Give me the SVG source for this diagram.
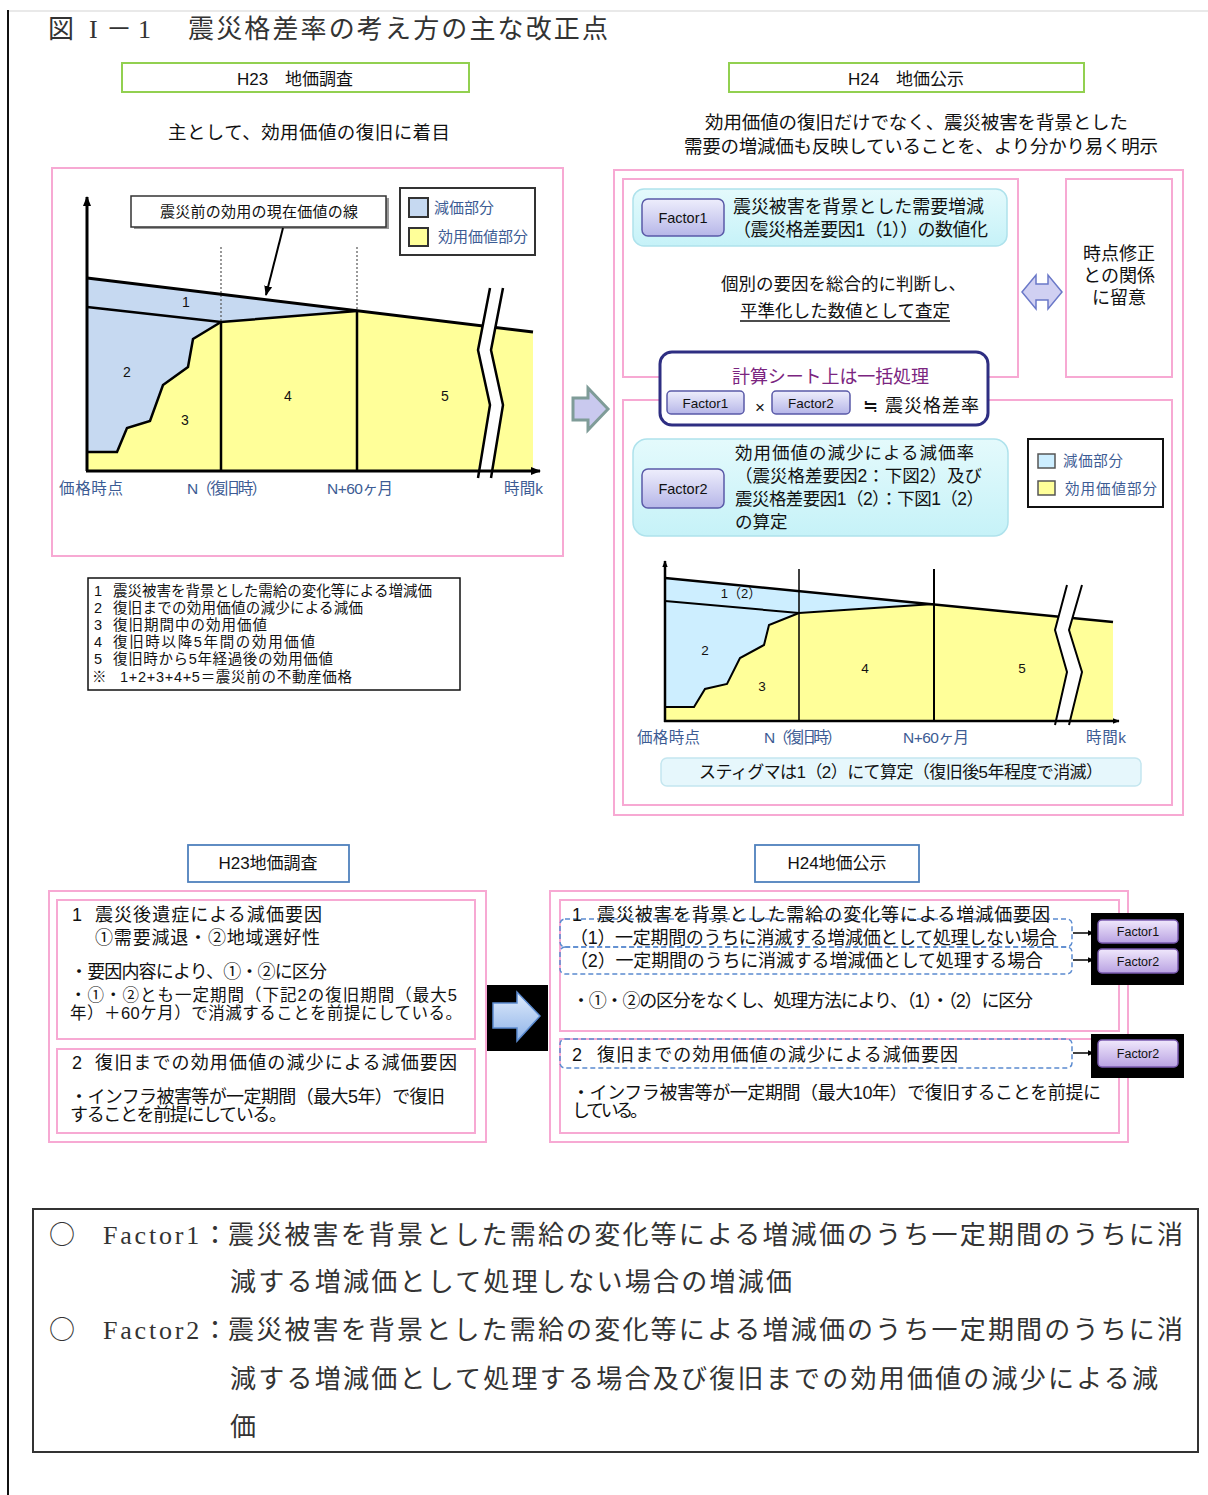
<svg xmlns="http://www.w3.org/2000/svg" width="1208" height="1495" viewBox="0 0 1208 1495">
<defs>
<style>
text{font-family:"Liberation Sans","Noto Sans CJK JP",sans-serif;fill:#111}
.t{font-family:"Liberation Serif","Noto Sans CJK JP",serif;fill:#333}
.c{font-family:"Noto Sans CJK JP",sans-serif;fill:#333}
.pink{fill:none;stroke:#f7a9d3;stroke-width:2}
.green{fill:#fff;stroke:#92d050;stroke-width:2}
.bluebox{fill:#fff;stroke:#4f81bd;stroke-width:1.8}
.ax{fill:#3d5c94}
.ln{fill:none;stroke:#000;stroke-linejoin:miter}
.dash{fill:none;stroke:#5b8bd0;stroke-width:1.5;stroke-dasharray:5,3}
.btn{fill:url(#btn);stroke:#5a5aa8;stroke-width:1.5}
.btn2{fill:url(#btn2);stroke:#7a5ab0;stroke-width:1.5}
.cyan{fill:url(#cy);stroke:#aee2ec;stroke-width:1.5}
.ctr{text-anchor:middle}
</style>
<linearGradient id="btn" x1="0" y1="0" x2="0" y2="1"><stop offset="0" stop-color="#eeeefc"/><stop offset="1" stop-color="#b6b6e8"/></linearGradient>
<linearGradient id="btn2" x1="0" y1="0" x2="0" y2="1"><stop offset="0" stop-color="#f0e8fc"/><stop offset="1" stop-color="#b9a2e2"/></linearGradient>
<linearGradient id="cy" x1="0" y1="0" x2="0" y2="1"><stop offset="0" stop-color="#e4fafc"/><stop offset="1" stop-color="#c6f2f8"/></linearGradient>
<linearGradient id="ba" x1="0" y1="0" x2="0" y2="1"><stop offset="0" stop-color="#e0ecfc"/><stop offset="1" stop-color="#8fb3e8"/></linearGradient>
<marker id="ah" viewBox="0 0 10 10" refX="9" refY="5" markerWidth="10" markerHeight="10" markerUnits="userSpaceOnUse" orient="auto"><path d="M0,1 L10,5 L0,9 z" fill="#000"/></marker>
<marker id="ahs" viewBox="0 0 10 10" refX="9" refY="5" markerWidth="7" markerHeight="7" markerUnits="userSpaceOnUse" orient="auto"><path d="M0,1 L10,5 L0,9 z" fill="#000"/></marker>
</defs>
<rect width="1208" height="1495" fill="#fff"/>
<line x1="8" y1="11" x2="1208" y2="11" stroke="#e2e2e2" stroke-width="1.5"/>
<line x1="8" y1="10" x2="8" y2="1495" stroke="#111" stroke-width="2"/>

<g id="title">
<text class="c" font-size="26" y="38" x="48">図</text>
<text class="t" font-size="26" y="38" x="89">I</text>
<text class="c" font-size="26" y="38" x="106">－</text>
<text class="t" font-size="26" y="38" x="138">1</text>
<text class="t" font-size="26" y="38" x="188" textLength="420">震災格差率の考え方の主な改正点</text>
</g>

<g id="h23-head">
<rect x="122" y="63" width="347" height="29" class="green"/>
<text x="295" y="85" font-size="17" class="ctr">H23　地価調査</text>
<text x="168" y="139" font-size="18.5" textLength="282">主として、効用価値の復旧に着目</text>
</g>
<g id="h24-head">
<rect x="729" y="63" width="355" height="29" class="green"/>
<text x="906" y="85" font-size="17" class="ctr">H24　地価公示</text>
<text x="705" y="129" font-size="18.5" textLength="423">効用価値の復旧だけでなく、震災被害を背景とした</text>
<text x="684" y="153" font-size="18.5" textLength="474">需要の増減価も反映していることを、より分かり易く明示</text>
</g>

<g id="chart1">
<rect x="52" y="168" width="511" height="388" class="pink"/>
<path d="M87,278 L357,311 L221,322 L193,339 L188,367 L163,385 L150,421 L127,428 L117,452 L87,452 Z" fill="#c6d9f1"/>
<path d="M87,452 L117,452 L127,428 L150,421 L163,385 L188,367 L193,339 L221,322 L357,311 L533,332 L533,471 L87,471 Z" fill="#ffff99"/>
<line x1="221" y1="247" x2="221" y2="322" stroke="#555" stroke-width="1.2" stroke-dasharray="2,2"/>
<line x1="357" y1="247" x2="357" y2="311" stroke="#555" stroke-width="1.2" stroke-dasharray="2,2"/>
<line x1="87" y1="278" x2="533" y2="332" class="ln" stroke-width="3"/>
<polyline points="87,307 221,322 357,311" class="ln" stroke-width="2.5"/>
<polyline points="87,452 117,452 127,428 150,421 163,385 188,367 193,339 221,322" class="ln" stroke-width="2.5"/>
<line x1="221" y1="322" x2="221" y2="471" class="ln" stroke-width="2.5"/>
<line x1="357" y1="311" x2="357" y2="471" class="ln" stroke-width="2.5"/>
<path d="M490,288 L478,350 L490,405 L478,471 L491,471 L503,405 L491,350 L503,288 Z" fill="#fff"/>
<polyline points="490,288 478,350 490,405 478,478" class="ln" stroke-width="2.5"/>
<polyline points="503,288 491,350 503,405 491,478" class="ln" stroke-width="2.5"/>
<line x1="87" y1="471" x2="87" y2="197" class="ln" stroke-width="3" marker-end="url(#ah)"/>
<line x1="86" y1="471" x2="540" y2="471" class="ln" stroke-width="3" marker-end="url(#ah)"/>
<text x="186" y="307" font-size="14" class="ctr">1</text>
<text x="127" y="377" font-size="14" class="ctr">2</text>
<text x="185" y="425" font-size="14" class="ctr">3</text>
<text x="288" y="401" font-size="14" class="ctr">4</text>
<text x="445" y="401" font-size="14" class="ctr">5</text>
<text x="59" y="494" font-size="15.5" class="ax" textLength="64">価格時点</text>
<text x="187" y="494" font-size="15.5" class="ax" textLength="80">N（復旧時）</text>
<text x="327" y="494" font-size="15.5" class="ax" textLength="66">N+60ヶ月</text>
<text x="504" y="494" font-size="15.5" class="ax" textLength="39">時間k</text>
</g>

<g id="callout1">
<rect x="134" y="198" width="255" height="31" fill="#999"/>
<rect x="131" y="196" width="255" height="31" fill="#fff" stroke="#333" stroke-width="1.5"/>
<text x="259" y="217" font-size="15" class="ctr" textLength="198">震災前の効用の現在価値の線</text>
</g>

<g id="legend1">
<rect x="400" y="188" width="135" height="67" fill="#fff" stroke="#333" stroke-width="2"/>
<rect x="409" y="198" width="19" height="19" fill="#c6d9f1" stroke="#333" stroke-width="2"/>
<text x="434" y="213" font-size="15" class="ax" textLength="60">減価部分</text>
<rect x="409" y="228" width="19" height="18" fill="#ffff99" stroke="#333" stroke-width="2"/>
<text x="438" y="242" font-size="15" class="ax" textLength="90">効用価値部分</text>
</g>

<g id="notes1">
<rect x="88" y="578" width="372" height="112" fill="#fff" stroke="#111" stroke-width="1.5"/>
<g font-size="14.5">
<text x="94" y="596">1</text><text x="113" y="596" textLength="319">震災被害を背景とした需給の変化等による増減価</text>
<text x="94" y="613">2</text><text x="113" y="613" textLength="250">復旧までの効用価値の減少による減価</text>
<text x="94" y="630">3</text><text x="113" y="630" textLength="154">復旧期間中の効用価値</text>
<text x="94" y="647">4</text><text x="113" y="647" textLength="202">復旧時以降5年間の効用価値</text>
<text x="94" y="664">5</text><text x="113" y="664" textLength="220">復旧時から5年経過後の効用価値</text>
<text x="92" y="682">※</text><text x="120" y="682" textLength="232">1+2+3+4+5＝震災前の不動産価格</text>
</g>
</g>

<g id="right-panel">
<rect x="614" y="170" width="569" height="645" class="pink"/>
<rect x="623" y="179" width="395" height="198" class="pink"/>
<rect x="1066" y="179" width="106" height="198" class="pink"/>
<rect x="623" y="400" width="549" height="405" class="pink"/>
</g>

<g id="factor1-box">
<rect x="633" y="189" width="374" height="57" rx="11" class="cyan"/>
<rect x="642" y="199" width="82" height="37" rx="6" class="btn"/>
<text x="683" y="223" font-size="14.5" class="ctr">Factor1</text>
<text x="733" y="213" font-size="18" textLength="251">震災被害を背景とした需要増減</text>
<text x="733" y="236" font-size="18" textLength="255">（震災格差要因1（1））の数値化</text>
</g>

<g id="judge">
<text x="721" y="290" font-size="17.5" textLength="245">個別の要因を総合的に判断し、</text>
<text x="740" y="317" font-size="17.5" textLength="210">平準化した数値として査定</text>
<line x1="740" y1="321" x2="950" y2="321" stroke="#111" stroke-width="1.3"/>
</g>

<g id="time-box">
<text x="1119" y="260" font-size="18" class="ctr">時点修正</text>
<text x="1119" y="282" font-size="18" class="ctr">との関係</text>
<text x="1119" y="304" font-size="18" class="ctr">に留意</text>
</g>

<g id="calc-box">
<rect x="660" y="352" width="328" height="73" rx="12" fill="#fff" stroke="#2e2e82" stroke-width="3"/>
<text x="732" y="383" font-size="18" textLength="197" style="fill:#7b2580">計算シート上は一括処理</text>
<rect x="667" y="391" width="77" height="23" rx="4" class="btn"/>
<text x="705.5" y="408" font-size="13.5" class="ctr">Factor1</text>
<text x="760" y="413" font-size="17" class="ctr">×</text>
<rect x="772" y="391" width="78" height="23" rx="4" class="btn"/>
<text x="811" y="408" font-size="13.5" class="ctr">Factor2</text>
<text x="863" y="412" font-size="18" textLength="116">≒ 震災格差率</text>
</g>

<g id="factor2-box">
<rect x="633" y="439" width="375" height="97" rx="14" class="cyan"/>
<rect x="642" y="469" width="82" height="39" rx="6" class="btn"/>
<text x="683" y="494" font-size="14.5" class="ctr">Factor2</text>
<text x="735" y="459" font-size="17.5" textLength="239">効用価値の減少による減価率</text>
<text x="735" y="482" font-size="17.5" textLength="247">（震災格差要因2：下図2）及び</text>
<text x="735" y="505" font-size="17.5" textLength="249">震災格差要因1（2）：下図1（2）</text>
<text x="735" y="528" font-size="17.5">の算定</text>
</g>

<g id="legend2">
<rect x="1028" y="439" width="135" height="68" fill="#fff" stroke="#111" stroke-width="2"/>
<rect x="1038" y="454" width="17" height="14" fill="#cdeeff" stroke="#555" stroke-width="1.5"/>
<text x="1063" y="466" font-size="14.5" class="ax" textLength="60">減価部分</text>
<rect x="1038" y="481" width="17" height="14" fill="#ffff99" stroke="#555" stroke-width="1.5"/>
<text x="1065" y="494" font-size="14.5" class="ax" textLength="92">効用価値部分</text>
</g>

<g id="chart2">
<path d="M665,578 L934,604 L799,613 L769,625 L764,645 L740,658 L727,684 L705,689 L694,707 L665,707 Z" fill="#cdeeff"/>
<path d="M665,707 L694,707 L705,689 L727,684 L740,658 L764,645 L769,625 L799,613 L934,604 L1113,622 L1113,721 L665,721 Z" fill="#ffff99"/>
<line x1="665" y1="578" x2="1113" y2="622" class="ln" stroke-width="2.5"/>
<polyline points="665,601 799,613 934,604" class="ln" stroke-width="2"/>
<polyline points="665,707 694,707 705,689 727,684 740,658 764,645 769,625 799,613" class="ln" stroke-width="2"/>
<line x1="799" y1="569" x2="799" y2="721" class="ln" stroke-width="1.5"/>
<line x1="934" y1="569" x2="934" y2="721" class="ln" stroke-width="2"/>
<path d="M1067,585 L1055,630 L1067,672 L1055,721 L1069,721 L1082,672 L1069,630 L1082,585 Z" fill="#fff"/>
<polyline points="1067,585 1055,630 1067,672 1055,725" class="ln" stroke-width="2"/>
<polyline points="1082,585 1069,630 1082,672 1069,725" class="ln" stroke-width="2"/>
<line x1="665" y1="722" x2="665" y2="561" class="ln" stroke-width="2.5" marker-end="url(#ahs)"/>
<line x1="664" y1="721" x2="1119" y2="721" class="ln" stroke-width="2.5" marker-end="url(#ahs)"/>
<text x="741" y="598" font-size="13" class="ctr">1（2）</text>
<text x="705" y="655" font-size="13.5" class="ctr">2</text>
<text x="762" y="691" font-size="13.5" class="ctr">3</text>
<text x="865" y="673" font-size="13.5" class="ctr">4</text>
<text x="1022" y="673" font-size="13.5" class="ctr">5</text>
<text x="637" y="743" font-size="15.5" class="ax" textLength="63">価格時点</text>
<text x="764" y="743" font-size="15.5" class="ax" textLength="78">N（復旧時）</text>
<text x="903" y="743" font-size="15.5" class="ax" textLength="66">N+60ヶ月</text>
<text x="1086" y="743" font-size="15.5" class="ax" textLength="40">時間k</text>
</g>

<g id="stigma">
<rect x="661" y="758" width="480" height="28" rx="6" fill="#e6f7fc" stroke="#c4e6ef" stroke-width="1.5"/>
<text x="699" y="778" font-size="17" textLength="404">スティグマは1（2）にて算定（復旧後5年程度で消滅）</text>
</g>

<g id="h23-bottom">
<rect x="188" y="845" width="161" height="37" class="bluebox"/>
<text x="268" y="869" font-size="17" class="ctr">H23地価調査</text>
<rect x="49" y="891" width="437" height="251" class="pink"/>
<rect x="57" y="900" width="418" height="139" class="pink"/>
<rect x="57" y="1049" width="418" height="84" class="pink"/>
<g font-size="18">
<text x="72" y="921">1</text><text x="95" y="921" textLength="227">震災後遺症による減価要因</text>
<text x="95" y="944" textLength="225">①需要減退・②地域選好性</text>
<text x="70" y="978" textLength="257">・要因内容により、①・②に区分</text>
<text x="70" y="1001" font-size="16.5" textLength="387">・①・②とも一定期間（下記2の復旧期間（最大5</text>
<text x="70" y="1019" font-size="16.5" textLength="392">年）＋60ケ月）で消滅することを前提にしている。</text>
<text x="72" y="1069">2</text><text x="95" y="1069" textLength="362">復旧までの効用価値の減少による減価要因</text>
<text x="70" y="1103" textLength="375">・インフラ被害等が一定期間（最大5年）で復旧</text>
<text x="70" y="1121" textLength="217">することを前提にしている。</text>
</g>
</g>

<g id="h24-bottom">
<rect x="755" y="845" width="164" height="37" class="bluebox"/>
<text x="837" y="869" font-size="17" class="ctr">H24地価公示</text>
<rect x="550" y="891" width="578" height="251" class="pink"/>
<rect x="560" y="900" width="559" height="131" class="pink"/>
<rect x="560" y="1039" width="559" height="94" class="pink"/>
<rect x="560" y="919" width="512" height="28" rx="5" class="dash"/>
<rect x="560" y="947" width="512" height="27" rx="5" class="dash"/>
<rect x="560" y="1039" width="512" height="29" rx="5" fill="#fff" class="dash"/>
<g font-size="18">
<text x="572" y="921">1</text><text x="597" y="921" textLength="453">震災被害を背景とした需給の変化等による増減価要因</text>
<text x="570" y="944" textLength="487">（1）一定期間のうちに消滅する増減価として処理しない場合</text>
<text x="570" y="967" textLength="473">（2）一定期間のうちに消滅する増減価として処理する場合</text>
<text x="572" y="1007" textLength="461">・①・②の区分をなくし、処理方法により、（1）・（2）に区分</text>
<text x="572" y="1061">2</text><text x="597" y="1061" textLength="361">復旧までの効用価値の減少による減価要因</text>
<text x="572" y="1099" textLength="529">・インフラ被害等が一定期間（最大10年）で復旧することを前提に</text>
<text x="572" y="1117" textLength="76">している。</text>
</g>
</g>

<g id="factor-tags">
<rect x="1091" y="913" width="93" height="72" fill="#000"/>
<rect x="1098" y="920" width="80" height="23" rx="4" class="btn2"/>
<text x="1138" y="936" font-size="12.5" class="ctr">Factor1</text>
<rect x="1098" y="949" width="80" height="24" rx="4" class="btn2"/>
<text x="1138" y="966" font-size="12.5" class="ctr">Factor2</text>
<rect x="1091" y="1034" width="93" height="44" fill="#000"/>
<rect x="1098" y="1040" width="80" height="27" rx="4" class="btn2"/>
<text x="1138" y="1058" font-size="12.5" class="ctr">Factor2</text>
</g>

<g id="connectors">
<line x1="283" y1="228" x2="266" y2="295" stroke="#000" stroke-width="2" marker-end="url(#ah)"/>
<line x1="1073" y1="933" x2="1094" y2="933" stroke="#000" stroke-width="1.5" marker-end="url(#ahs)"/>
<line x1="1073" y1="960" x2="1094" y2="960" stroke="#000" stroke-width="1.5" marker-end="url(#ahs)"/>
<line x1="1073" y1="1053" x2="1094" y2="1053" stroke="#000" stroke-width="1.5" marker-end="url(#ahs)"/>
<path d="M573,398 L588,398 L588,388 L608,409 L588,430 L588,420 L573,420 Z" fill="#c9c9ee" stroke="#7f9c98" stroke-width="3" stroke-linejoin="miter"/>
<path d="M1022,292 L1036,275 L1036,284 L1048,284 L1048,275 L1062,292 L1048,309 L1048,300 L1036,300 L1036,309 Z" fill="#d0d0f2" stroke="#6a78c8" stroke-width="1.5"/>
<rect x="487" y="985" width="61" height="66" fill="#000"/>
<path d="M493,1003 L517,1003 L517,992 L540,1016 L517,1041 L517,1028 L493,1028 Z" fill="url(#ba)" stroke="#5b8bd0" stroke-width="1.5"/>
</g>

<g id="footer">
<rect x="33" y="1209" width="1165" height="243" fill="#fff" stroke="#333" stroke-width="2"/>
<g font-size="26">
<text class="c" x="49" y="1244">○</text>
<text class="t" x="103" y="1244" textLength="125">Factor1：</text>
<text class="t" x="228" y="1244" textLength="955">震災被害を背景とした需給の変化等による増減価のうち一定期間のうちに消</text>
<text class="t" x="230" y="1291" textLength="562">減する増減価として処理しない場合の増減価</text>
<text class="c" x="49" y="1339">○</text>
<text class="t" x="103" y="1339" textLength="125">Factor2：</text>
<text class="t" x="228" y="1339" textLength="955">震災被害を背景とした需給の変化等による増減価のうち一定期間のうちに消</text>
<text class="t" x="230" y="1388" textLength="928">減する増減価として処理する場合及び復旧までの効用価値の減少による減</text>
<text class="t" x="230" y="1436">価</text>
</g>
</g>
</svg>
